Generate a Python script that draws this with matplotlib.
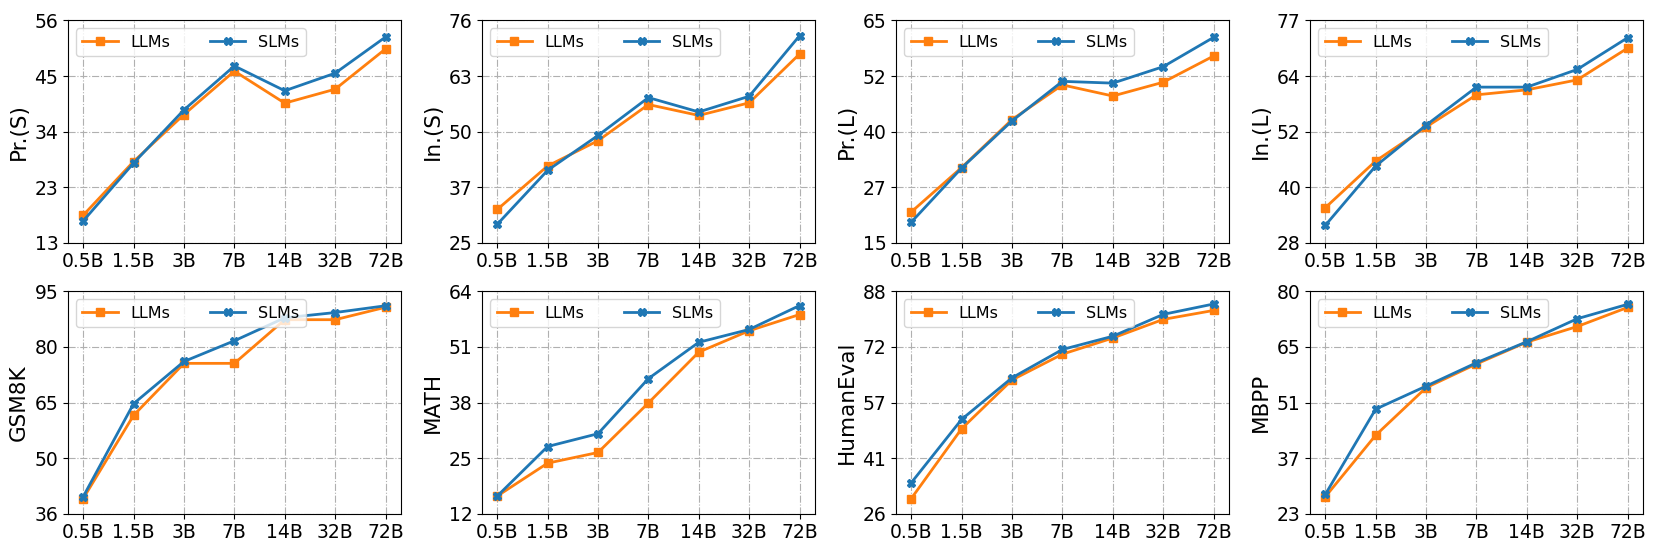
import numpy as np
import matplotlib
matplotlib.use("Agg")
import matplotlib.pyplot as plt

# model sizes on the x axis
sizes = ["0.5B", "1.5B", "3B", "7B", "14B", "32B", "72B"]

# metric names (y labels) and axis ranges
metrics = ["Pr.(S)", "In.(S)", "Pr.(L)", "In.(L)", "GSM8K", "MATH", "HumanEval", "MBPP"]
y_low = [13, 25, 15, 28, 36, 12, 26, 23]
y_high = [56, 76, 65, 77, 95, 64, 88, 80]

# scores
llm_prs = [18.3, 28.7, 37.8, 46.2, 40.0, 42.7, 50.5]
slm_prs = [17.2, 28.4, 38.7, 47.2, 42.4, 45.8, 52.8]
llm_ins = [32.6, 42.6, 48.4, 56.7, 54.2, 57.1, 68.3]
slm_ins = [29.2, 41.6, 49.6, 58.3, 55.0, 58.6, 72.5]
llm_prl = [21.9, 31.9, 42.7, 50.5, 48.0, 51.1, 57.0]
slm_prl = [19.6, 31.8, 42.4, 51.3, 50.9, 54.6, 61.2]
llm_inl = [35.7, 46.0, 53.5, 60.6, 61.7, 63.9, 70.9]
slm_inl = [31.8, 44.9, 53.9, 62.3, 62.3, 66.2, 73.2]
llm_gsm = [40.0, 62.1, 75.9, 75.9, 87.5, 87.5, 90.8]
slm_gsm = [40.5, 65.2, 76.4, 81.9, 88.0, 89.4, 91.2]
llm_math = [16.1, 23.8, 26.3, 37.9, 49.8, 54.8, 58.6]
slm_math = [16.1, 27.7, 30.7, 43.6, 52.1, 55.1, 60.7]
llm_he = [30.2, 49.7, 63.3, 70.5, 75.0, 80.2, 82.7]
slm_he = [34.6, 52.3, 63.9, 71.8, 75.5, 81.6, 84.5]
llm_mbpp = [27.3, 43.1, 55.3, 61.4, 67.0, 71.0, 75.9]
slm_mbpp = [27.9, 49.8, 55.7, 61.7, 67.1, 73.0, 76.7]

llm_all = [llm_prs, llm_ins, llm_prl, llm_inl, llm_gsm, llm_math, llm_he, llm_mbpp]
slm_all = [slm_prs, slm_ins, slm_prl, slm_inl, slm_gsm, slm_math, slm_he, slm_mbpp]

fig, axes = plt.subplots(2, 4, figsize=(16.61, 5.54), dpi=100)
plt.subplots_adjust(left=0.041, right=0.989, top=0.963, bottom=0.073,
                    wspace=0.245, hspace=0.22)

x = np.arange(len(sizes))
for i, ax in enumerate(axes.flat):
    ax.plot(x, llm_all[i], color="#ff7f0e", marker="s", markersize=6,
            linewidth=2, label="LLMs")
    ax.plot(x, slm_all[i], color="#1f77b4", marker="X", markersize=6,
            linewidth=2, label="SLMs")
    ax.set_ylim(y_low[i], y_high[i])
    ticks = np.linspace(y_low[i], y_high[i], 5)
    ax.set_yticks(ticks)
    ax.set_yticklabels([str(int(t)) for t in ticks])
    ax.set_xticks(x)
    ax.set_xticklabels(sizes)
    ax.set_xlim(-0.3, 6.3)
    ax.tick_params(labelsize=13.5)
    ax.set_ylabel(metrics[i], fontsize=15.5)
    ax.grid(True, linestyle="-.", color="#b0b0b0", linewidth=0.8)
    ax.legend(loc="upper left", ncol=2, fontsize=11.5, columnspacing=2.5,
              handlelength=2.2)

plt.savefig("out.png")
